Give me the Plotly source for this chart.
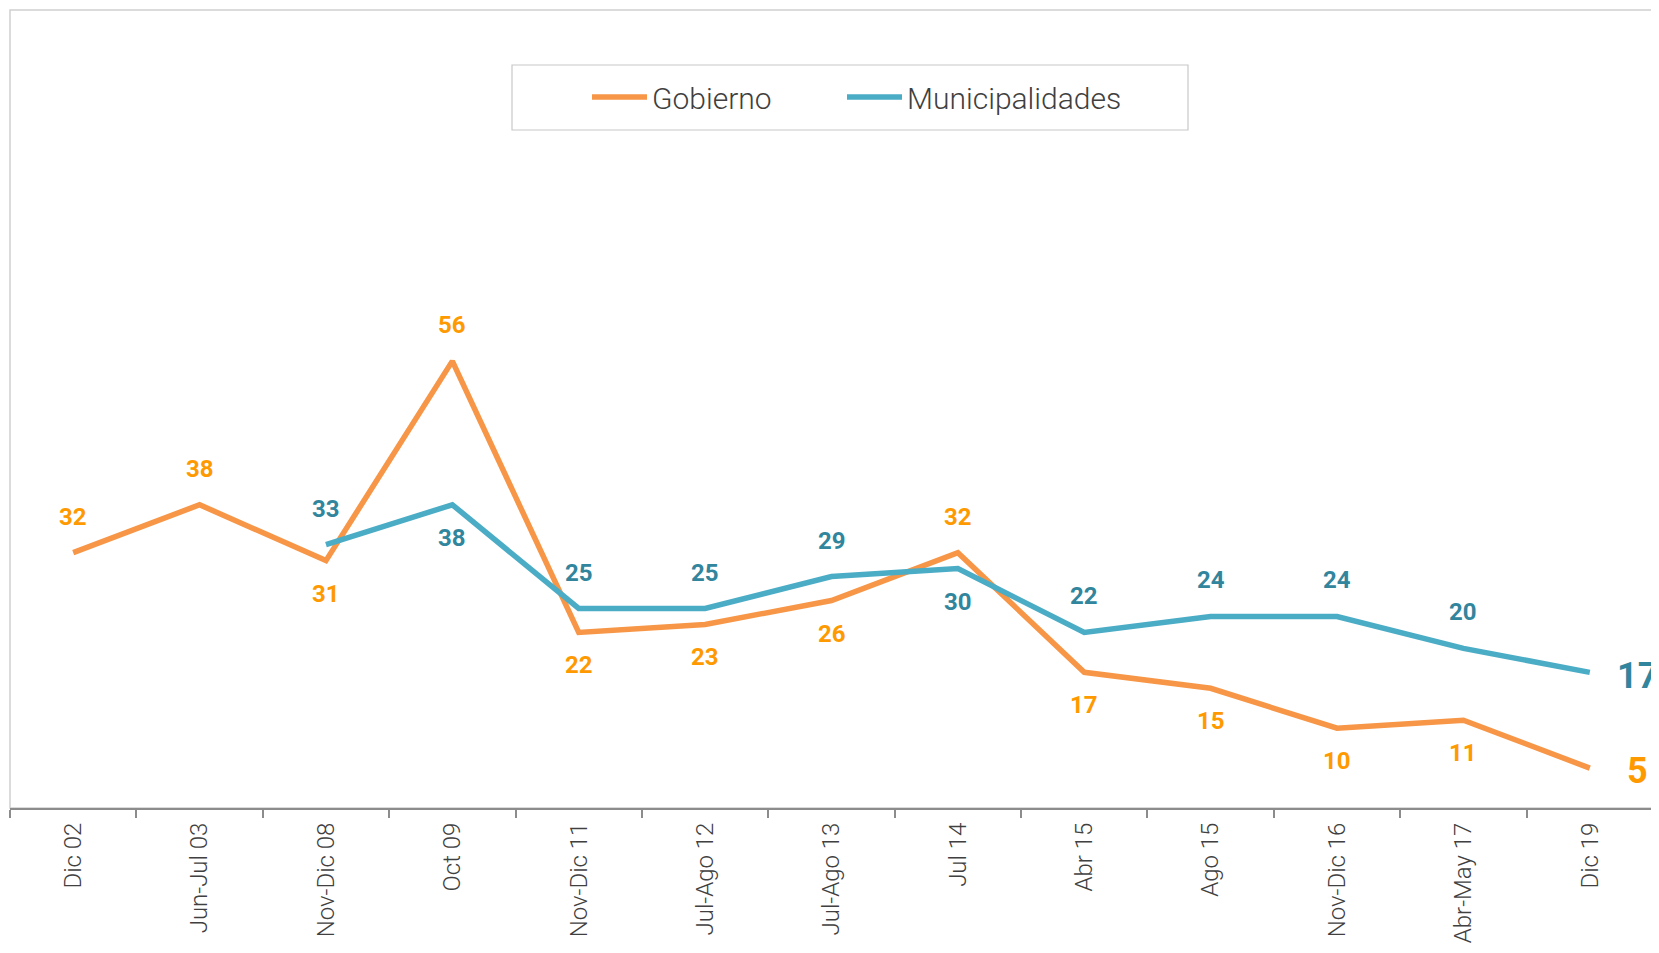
import plotly.graph_objects as go

categories = ["Dic 02", "Jun-Jul 03", "Nov-Dic 08", "Oct 09", "Nov-Dic 11", "Jul-Ago 12",
              "Jul-Ago 13", "Jul 14", "Abr 15", "Ago 15", "Nov-Dic 16", "Abr-May 17", "Dic 19"]
gobierno = [32, 38, 31, 56, 22, 23, 26, 32, 17, 15, 10, 11, 5]
municipalidades = [None, None, 33, 38, 25, 25, 29, 30, 22, 24, 24, 20, 17]

# label placement (style): +1 above, -1 below, 0 = end label to the right
gob_pos = [1, 1, -1, 1, -1, -1, -1, 1, -1, -1, -1, -1, 0]
mun_pos = [0, 0, 1, -1, 1, 1, 1, -1, 1, 1, 1, 1, 0]

ORANGE_LINE = "#F79646"
ORANGE_TXT = "#FF9900"
TEAL_LINE = "#4BACC6"
TEAL_TXT = "#31859C"
FONT = "Roboto, 'Open Sans', sans-serif"

fig = go.Figure()
fig.add_trace(go.Scatter(x=categories, y=gobierno, mode="lines", name="Gobierno",
                         line=dict(color=ORANGE_LINE, width=5.5), legend="legend"))
fig.add_trace(go.Scatter(x=categories, y=municipalidades, mode="lines", name="Municipalidades",
                         line=dict(color=TEAL_LINE, width=5.5), legend="legend2"))

annotations = []
last = len(categories) - 1
for series, pos, color in ((gobierno, gob_pos, ORANGE_TXT), (municipalidades, mun_pos, TEAL_TXT)):
    for i, (c, v) in enumerate(zip(categories, series)):
        if v is None:
            continue
        if i == last:
            annotations.append(dict(x=c, y=v, xref="x", yref="y", text=str(v), showarrow=False,
                                    xshift=48, yshift=(-4 if color == TEAL_TXT else -3),
                                    font=dict(family=FONT, size=36, color=color, weight="bold")))
        else:
            p = pos[i]
            annotations.append(dict(x=c, y=v, xref="x", yref="y", text=str(v), showarrow=False,
                                    yshift=(36 if p > 0 else -33),
                                    font=dict(family=FONT, size=24, color=color, weight="bold")))

# page body adds an 8px offset; figure sized so it fits the window
OFF = 8
W, H = 1651, 945
L, R, T = 10 - OFF, W - (1653 - OFF), 10 - OFF
B = H - (808 - OFF)
pw, ph = W - L - R, H - T - B


def px_x(px):
    return (px - OFF - L) / pw


def px_y(py):
    return (H - B - (py - OFF)) / ph


shapes = [
    dict(type="rect", xref="paper", yref="paper", x0=0, x1=1, y0=0, y1=1,
         line=dict(color="#D0D0D0", width=1.5), layer="below"),
    dict(type="rect", xref="paper", yref="paper", x0=px_x(512), x1=px_x(1188), y0=px_y(130), y1=px_y(65),
         line=dict(color="#C8C8C8", width=1.2), fillcolor="rgba(0,0,0,0)", layer="below"),
]

legend_font = dict(family=FONT, size=30, color="#404040", weight=300)
legend_common = dict(orientation="h", xanchor="left", yanchor="middle", y=px_y(97),
                     font=legend_font, itemwidth=55, bgcolor="rgba(0,0,0,0)", borderwidth=0)

fig.update_layout(
    width=W, height=H,
    margin=dict(l=L, r=R, t=T, b=B, pad=0, autoexpand=False),
    paper_bgcolor="white", plot_bgcolor="white",
    showlegend=True,
    legend=dict(x=px_x(587), **legend_common),
    legend2=dict(x=px_x(842), **legend_common),
    xaxis=dict(type="category", range=[-0.5, 12.5], showgrid=False, zeroline=False,
               showline=True, linecolor="#8C8C8C", linewidth=2, automargin=False,
               ticks="outside", ticklen=8, tickwidth=2, tickcolor="#8C8C8C", tickson="boundaries",
               tickangle=-90, ticklabelstandoff=3,
               tickfont=dict(family=FONT, size=24, color="#404040", weight=300)),
    yaxis=dict(range=[0, 100], showgrid=False, zeroline=False, showticklabels=False, ticks="",
               showline=False, automargin=False),
    annotations=annotations,
    shapes=shapes,
)

fig.write_html("out.html")
